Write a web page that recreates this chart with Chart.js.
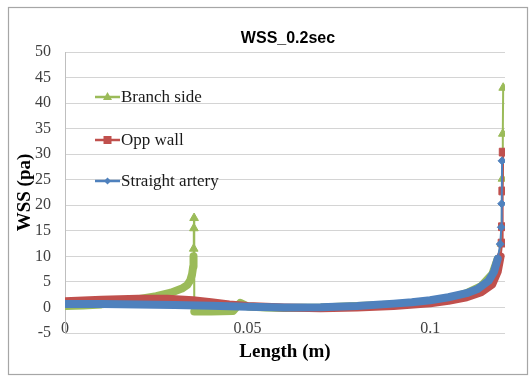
<!DOCTYPE html>
<html>
<head>
<meta charset="utf-8">
<title>WSS_0.2sec</title>
<script src="https://cdn.jsdelivr.net/npm/chart.js@4.4.0/dist/chart.umd.min.js"></script>
<style>
  html, body { margin: 0; padding: 0; background: #fff; }
  #wrap { position: relative; width: 529px; height: 377px; }
</style>
</head>
<body>
<div id="wrap"><canvas id="wssChart" width="529" height="377"></canvas></div>
<script>
// wall shear stress along the vessel at t = 0.2 s
const branchX = [0, 0.005, 0.010, 0.015, 0.020, 0.025, 0.029, 0.032, 0.0335, 0.0343, 0.0348, 0.0351,
  0.0352, 0.03525, 0.0353, 0.03535, 0.0354, 0.040, 0.046, 0.048, 0.050, 0.055, 0.060, 0.070, 0.080,
  0.090, 0.100, 0.105, 0.110, 0.114, 0.117, 0.1185, 0.1195, 0.1198, 0.1199, 0.1200];
const branchY = [0.3, 0.4, 0.6, 1.0, 1.6, 2.2, 2.9, 3.7, 4.4, 5.3, 6.5, 8.0,
  10.0, 11.5, 15.5, 17.5, -0.8, -0.8, -0.7, 0.9, 0.2, 0.0, -0.1, 0.0, 0.3,
  0.6, 1.1, 1.7, 2.8, 4.2, 6.5, 9.5, 12.5, 25.2, 34.0, 43.0];

const oppX = [0, 0.010, 0.020, 0.028, 0.035, 0.040, 0.045, 0.050, 0.060, 0.070, 0.080, 0.090,
  0.100, 0.105, 0.110, 0.114, 0.117, 0.1185, 0.1193, 0.1197, 0.1198, 0.1199, 0.1200];
const oppY = [1.2, 1.5, 1.7, 1.7, 1.4, 1.0, 0.6, 0.3, 0.0, -0.15, 0.0, 0.3,
  0.8, 1.3, 2.0, 3.0, 4.5, 7.0, 10.0, 12.6, 15.8, 22.8, 30.4];

const straightX = [0, 0.010, 0.020, 0.030, 0.040, 0.050, 0.060, 0.070, 0.080, 0.090, 0.095, 0.100,
  0.105, 0.110, 0.113, 0.116, 0.1175, 0.1185, 0.1192, 0.1195, 0.1196, 0.1197];
const straightY = [0.7, 0.7, 0.6, 0.5, 0.35, 0.15, 0.0, 0.05, 0.3, 0.75, 1.0, 1.4,
  2.0, 2.8, 3.6, 5.2, 7.0, 9.5, 12.4, 15.7, 20.3, 28.7];

const seriesNames = ['Branch side', 'Opp wall', 'Straight artery'];
const seriesColors = ['#9BBB59', '#C0504D', '#4F81BD'];
const yTicks = { min: -5, max: 50, step: 5 };
const xRange = { min: 0, max: 0.1205 };
const xTickValues = [0, 0.05, 0.1];

function toPoints(xs, ys) {
  return xs.map((x, i) => ({ x: x, y: ys[i] }));
}

// markers only show where the points spread out on the spikes,
// below that the dense markers merge into a thick band
function makeSeries(idx, xs, ys, style, radius, cut) {
  const c = seriesColors[idx];
  return {
    label: seriesNames[idx],
    data: toPoints(xs, ys),
    showLine: true,
    borderColor: c,
    backgroundColor: c,
    borderWidth: 2,
    borderJoinStyle: 'round',
    borderCapStyle: 'round',
    tension: 0,
    pointStyle: style,
    pointBackgroundColor: c,
    pointBorderColor: c,
    pointBorderWidth: 1,
    pointRadius: ctx => (ctx.raw && ctx.raw.y >= cut) ? radius : 0,
    pointHoverRadius: ctx => (ctx.raw && ctx.raw.y >= cut) ? radius : 0,
    order: 3 - idx,
    segment: {
      borderWidth: ctx => (ctx.p0.parsed.y < cut && ctx.p1.parsed.y < cut) ? 8 : 2
    }
  };
}

const frame = {
  id: 'frame',
  beforeDraw(chart) {
    const c = chart.ctx;
    c.save();
    c.fillStyle = '#fff';
    c.fillRect(0, 0, chart.width, chart.height);
    c.strokeStyle = '#a6a6a6';
    c.lineWidth = 1.2;
    c.strokeRect(8.5, 7.5, 519, 367);
    c.restore();
  },
  afterDraw(chart) {
    const c = chart.ctx;
    c.save();
    c.fillStyle = '#000';
    c.font = 'bold 16px "Liberation Sans", Arial, sans-serif';
    c.textAlign = 'center';
    c.textBaseline = 'middle';
    c.fillText('WSS_0.2sec', 288, 39);
    c.restore();
  }
};

function drawMarker(c, style, x, y) {
  c.beginPath();
  if (style === 'triangle') {
    c.moveTo(x, y - 5);
    c.lineTo(x + 4.5, y + 3);
    c.lineTo(x - 4.5, y + 3);
  } else if (style === 'rect') {
    c.rect(x - 4, y - 4, 8, 8);
  } else {
    c.moveTo(x, y - 3.5);
    c.lineTo(x + 3.5, y);
    c.lineTo(x, y + 3.5);
    c.lineTo(x - 3.5, y);
  }
  c.closePath();
  c.fill();
}

// legend sits inside the plot area, upper left
const insideLegend = {
  id: 'insideLegend',
  afterDraw(chart) {
    const c = chart.ctx;
    const styles = ['triangle', 'rect', 'rectRot'];
    const rows = [97, 140, 181];
    c.save();
    c.font = '17px "Liberation Serif", "Times New Roman", serif';
    c.textBaseline = 'middle';
    c.textAlign = 'left';
    seriesNames.forEach((name, i) => {
      const y = rows[i];
      c.strokeStyle = seriesColors[i];
      c.fillStyle = seriesColors[i];
      c.lineWidth = 2.5;
      c.beginPath();
      c.moveTo(95, y);
      c.lineTo(120, y);
      c.stroke();
      drawMarker(c, styles[i], 107.5, y);
      c.fillStyle = '#1a1a1a';
      c.fillText(name, 121, y + 1);
    });
    c.restore();
  }
};

const ctx = document.getElementById('wssChart').getContext('2d');
const chart = new Chart(ctx, {
  type: 'scatter',
  data: {
    datasets: [
      makeSeries(0, branchX, branchY, 'triangle', 5, 11),
      makeSeries(1, oppX, oppY, 'rect', 5.5, 12),
      makeSeries(2, straightX, straightY, 'rectRot', 4, 12)
    ]
  },
  options: {
    responsive: false,
    animation: false,
    layout: { padding: { top: 52, right: 24, bottom: 0, left: 0 } },
    plugins: {
      legend: { display: false },
      tooltip: { enabled: false },
      title: { display: false }
    },
    scales: {
      x: {
        type: 'linear',
        min: xRange.min,
        max: xRange.max,
        grid: { display: false, drawTicks: false },
        border: { display: false },
        afterBuildTicks: s => { s.ticks = xTickValues.map(v => ({ value: v })); },
        ticks: {
          // labels sit just above the bottom gridline
          mirror: true,
          padding: -5,
          color: '#404040',
          font: { family: '"Liberation Serif", "Times New Roman", serif', size: 16 },
          maxRotation: 0,
          autoSkip: false,
          callback: v => String(+v.toFixed(2))
        },
        title: {
          display: true,
          text: 'Length (m)',
          color: '#000',
          font: { family: '"Liberation Serif", "Times New Roman", serif', size: 19, weight: 'bold' },
          padding: { top: 0, bottom: 14 }
        },
        afterFit: s => { s.height = 44; }
      },
      y: {
        min: yTicks.min,
        max: yTicks.max,
        grid: { color: '#d4d4d4', lineWidth: 1, drawTicks: false },
        border: { display: true, color: '#bfbfbf', width: 1 },
        ticks: {
          stepSize: yTicks.step,
          padding: 14,
          color: '#404040',
          font: { family: '"Liberation Serif", "Times New Roman", serif', size: 16 }
        },
        title: {
          display: true,
          text: 'WSS (pa)',
          color: '#000',
          font: { family: '"Liberation Serif", "Times New Roman", serif', size: 19, weight: 'bold' },
          padding: { top: 14, bottom: 0 }
        },
        afterFit: s => { s.width = 65; }
      }
    }
  },
  plugins: [frame, insideLegend]
});
</script>
</body>
</html>
